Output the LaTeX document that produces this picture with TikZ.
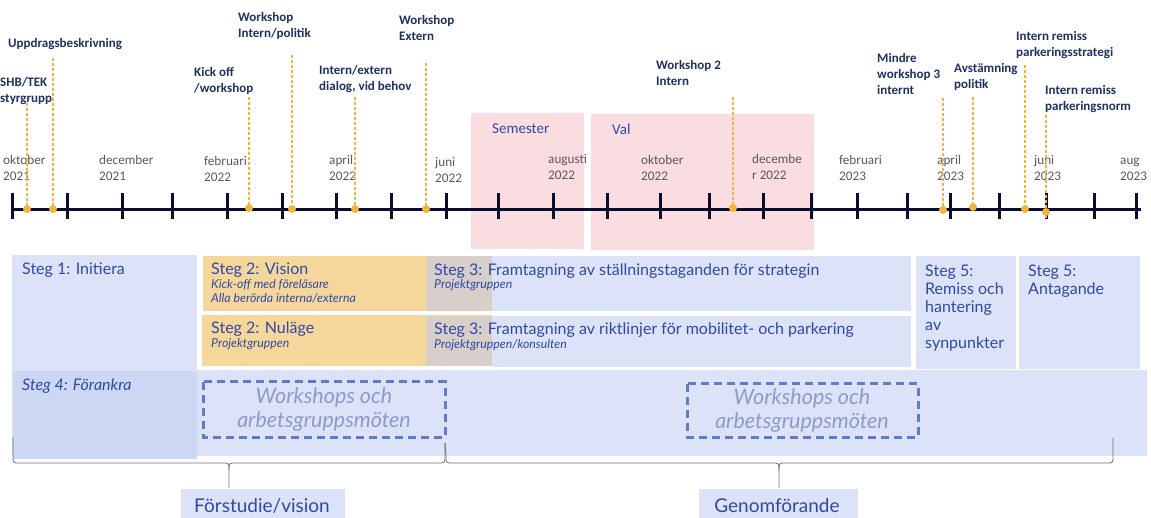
\documentclass[tikz,border=0pt]{standalone}
\usepackage{fontspec}
\setmainfont{Lato}
\newfontfamily\carl{Carlito}
\definecolor{navy}{HTML}{1F3061}
\definecolor{mgray}{HTML}{595959}
\definecolor{dotc}{HTML}{F2B63C}
\definecolor{axisc}{HTML}{0C0C2C}
\definecolor{pinkc}{HTML}{FADDE0}
\definecolor{lav}{HTML}{DCE2F7}
\definecolor{lavdark}{HTML}{CCD8F3}
\definecolor{orangec}{HTML}{F6D79B}
\definecolor{overc}{HTML}{D8CFCB}
\definecolor{stegblue}{HTML}{3049A6}
\definecolor{dashc}{HTML}{5F7DC8}
\definecolor{wsc}{HTML}{8C9BC8}
\definecolor{bracec}{HTML}{707070}
\begin{document}
\begin{tikzpicture}[x=1pt,y=-1pt,
  lbl/.style={anchor=base west, inner sep=0, align=left, font=\carl\bfseries\fontsize{13}{16}\selectfont, text=navy},
  mon/.style={anchor=base west, inner sep=0, align=left, font=\carl\fontsize{13.2}{16}\selectfont, text=mgray},
  vl/.style={draw=dotc, line width=1.2pt, dash pattern=on 3pt off 2pt},
  dot/.style={circle, fill=dotc, inner sep=0, minimum size=8pt},
  tickl/.style={line width=3pt, draw=axisc},
  stg/.style={anchor=base west, inner sep=0, align=left, font=\fontsize{16}{17.8}\selectfont, text=stegblue},
  sub/.style={anchor=base west, inner sep=0, align=left, font=\itshape\fontsize{12.3}{14}\selectfont, text=stegblue},
  wsbox/.style={draw=dashc, line width=3pt, dash pattern=on 8pt off 5pt},
  wst/.style={align=center, inner sep=0, font=\itshape\fontsize{21.5}{24}\selectfont, text=wsc},
  brace/.style={draw=bracec, line width=0.8pt},
  phase/.style={anchor=base, inner sep=0, text=stegblue, font=\fontsize{19}{20}\selectfont}
]
\useasboundingbox (0,0) rectangle (1151,518);

% pink periods
\fill[pinkc] (471,113) rectangle (584,249);
\fill[pinkc] (591,114) rectangle (814,250);
\node[anchor=base west, inner sep=0, font=\carl\fontsize{15}{18}\selectfont, text=stegblue] (sem) at (492,134) {Semester};
\node[anchor=base west, inner sep=0, font=\carl\fontsize{15}{18}\selectfont, text=stegblue] (val) at (612,135) {Val};

% month labels (anchor = baseline of last line)
\node[mon] (m1) at (3,181) {oktober\\2021};
\node[mon] (m2) at (99,181) {december\\2021};
\node[mon] (m3) at (204,182) {februari\\2022};
\node[mon] (m4) at (329,181) {april\\2022};
\node[mon] (m5) at (435,183) {juni\\2022};
\node[mon] (m6) at (548,180) {augusti\\2022};
\node[mon] (m7) at (641,181) {oktober\\2022};
\node[mon] (m8) at (752,180) {decembe\\r 2022};
\node[mon] (m9) at (839,181) {februari\\2023};
\node[mon] (m10) at (937,181) {april\\2023};
\node[mon] (m11) at (1034,181) {juni\\2023};
\node[mon] (m12) at (1120,181) {aug\\2023};

% event labels (anchor = baseline of last line)
\node[lbl] (e1) at (0,103) {SHB/TEK\\styrgrupp};
\node[lbl] (e2) at (8,48) {Uppdragsbeskrivning};
\node[lbl] (e3) at (194,93) {Kick off\\/workshop};
\node[lbl] (e4) at (238,38) {Workshop\\Intern/politik};
\node[lbl] (e5) at (319,91) {Intern/extern\\dialog, vid behov};
\node[lbl] (e6) at (399,41) {Workshop\\Extern};
\node[lbl] (e7) at (656,86) {Workshop 2\\Intern};
\node[lbl] (e8) at (877,95) {Mindre\\workshop 3\\internt};
\node[lbl] (e9) at (954,89) {Avstämning\\politik};
\node[lbl] (e10) at (1016,57) {Intern remiss\\parkeringsstrategi};
\node[lbl] (e11) at (1045,111) {Intern remiss\\parkeringsnorm};

% axis
\coordinate (axL) at (12,210);
\coordinate (axR) at (1141,210);
\draw[line width=3pt, draw=axisc] (axL) -- (axR);
\foreach \x in {12,67,122,172,227,282,336,391,446,498,553,607,660,709,763,811,857,907,950,999,1046,1094,1136}
  \draw[tickl] (\x,193) -- (\x,219);

% event dots and dashed leaders
\foreach \n/\x/\y/\t in {1/27/209/103, 2/53/209/58, 3/249/208/97, 4/292/209/55, 5/355/209/97, 6/426/209/63, 7/733/208/97, 8/943/210/98, 9/973/207/97, 10/1025/209/65}{
  \coordinate (t\n) at (\x,\t);
  \node[dot] (d\n) at (\x,\y) {};
  \draw[vl] (t\n) -- (d\n);
}
\coordinate (t11) at (1046,115);
\coordinate (b11) at (1046,218);
\draw[vl] (t11) -- (b11);
\node[dot] (d11) at (1046,212) {};

% lower blocks
\fill[lav] (12,370) rectangle (1147,456);
\fill[lavdark] (13,371) rectangle (197,459);
\fill[lav] (12,255) rectangle (197,371);
\fill[orangec] (203,256) rectangle (492,311);
\fill[orangec] (202,315) rectangle (492,366);
\fill[lav] (492,256) rectangle (911,311);
\fill[lav] (492,316) rectangle (911,367);
\fill[overc] (426,256) rectangle (492,311);
\fill[overc] (426,316) rectangle (492,366);
\fill[lav] (916,256) rectangle (1016,369);
\fill[lav] (1019,256) rectangle (1140,369);

\node[stg] (s1) at (22,275) {Steg 1: Initiera};
\node[stg] (s2a) at (211,275) {Steg 2: Vision};
\node[sub] (s2as) at (211,303) {Kick-off med föreläsare\\Alla berörda interna/externa};
\node[stg] (s2b) at (211,334) {Steg 2: Nuläge};
\node[sub] (s2bs) at (211,348) {Projektgruppen};
\node[stg] (s3a) at (434,276) {Steg 3: Framtagning av ställningstaganden för strategin};
\node[sub] (s3as) at (434,289) {Projektgruppen};
\node[stg] (s3b) at (434,335) {Steg 3: Framtagning av riktlinjer för mobilitet- och parkering};
\node[sub] (s3bs) at (434,349) {Projektgruppen/konsulten};
\node[stg] (s5a) at (925,348.2) {Steg 5:\\Remiss och\\hantering\\av\\synpunkter};
\node[stg] (s5b) at (1028,294.8) {Steg 5:\\Antagande};
\node[anchor=base west, inner sep=0, font=\itshape\fontsize{16}{18}\selectfont, text=stegblue] (s4) at (22,391) {Steg 4: Förankra};

% workshop boxes
\draw[wsbox] (203,382) rectangle (445,437);
\node[wst] (w1) at (324,410) {Workshops och\\arbetsgruppsmöten};
\draw[wsbox] (687,384) rectangle (918,437);
\node[wst] (w2) at (802,411) {Workshops och\\arbetsgruppsmöten};

% braces
\coordinate (bl) at (13,437);
\coordinate (bm1) at (229,488);
\coordinate (bj) at (445,443);
\coordinate (bm2) at (779,488);
\coordinate (br) at (1113,438);
\draw[brace] (bl) -- (13,456) .. controls (13,463) .. (20,463) -- (222,463) .. controls (229,463) .. (229,470) -- (bm1);
\draw[brace] (229,470) .. controls (229,463) .. (236,463) -- (438,463) .. controls (445,463) .. (445,456) -- (bj);
\draw[brace] (bj) -- (446,456) .. controls (446,463) .. (453,463) -- (772,463) .. controls (779,463) .. (779,470) -- (bm2);
\draw[brace] (779,470) .. controls (779,463) .. (786,463) -- (1106,463) .. controls (1113,463) .. (1113,456) -- (br);

% phase labels
\fill[lav] (181,489) rectangle (345,518);
\node[phase] (p1) at (262,512) {Förstudie/vision};
\fill[lav] (699,489) rectangle (858,518);
\node[phase] (p2) at (777,512) {Genomförande};
\end{tikzpicture}
\end{document}
